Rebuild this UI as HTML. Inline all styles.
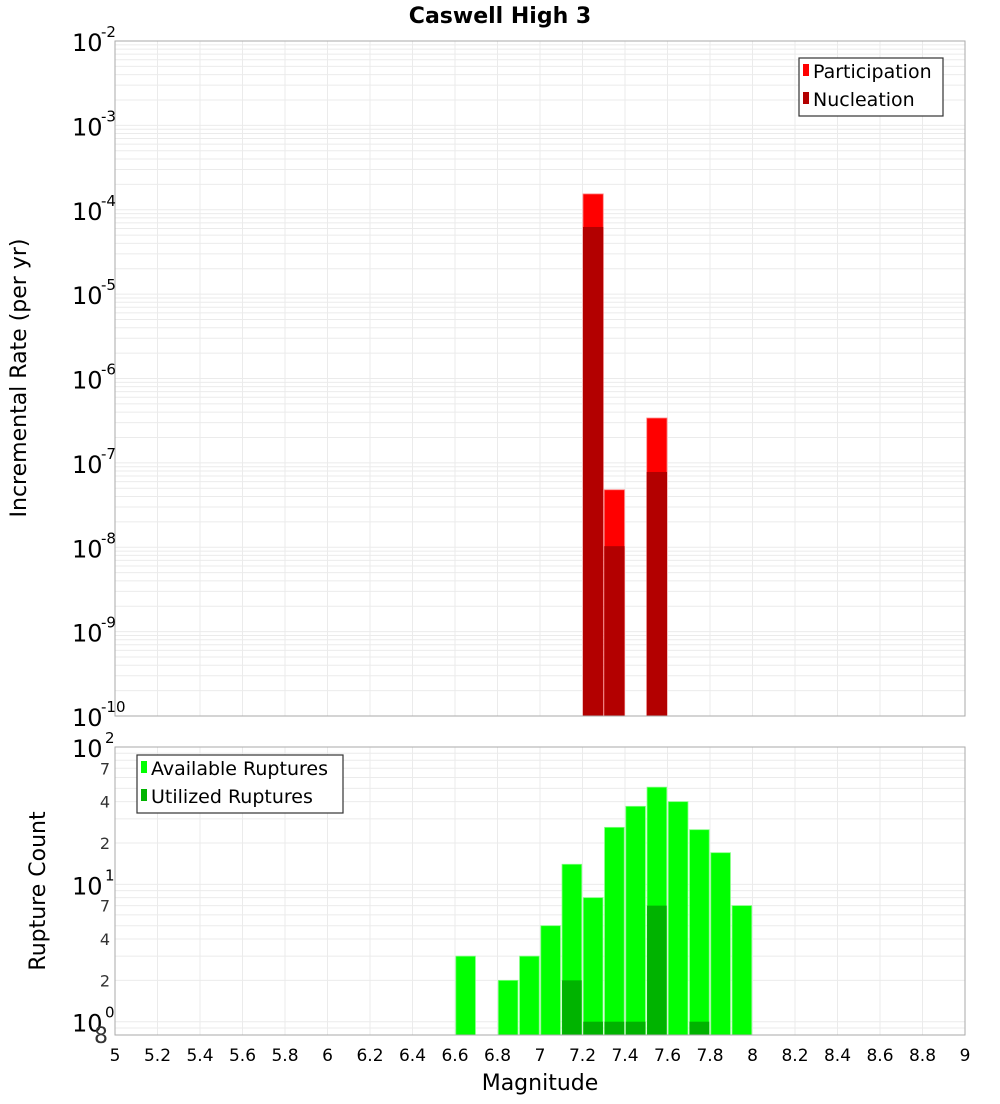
<!DOCTYPE html>
<html><head><meta charset="utf-8"><style>
body{margin:0;background:#fff;font-family:"DejaVu Sans","Liberation Sans",sans-serif;}
svg text{font-family:"DejaVu Sans","Liberation Sans",sans-serif;}
</style></head><body>
<svg id="c" width="1000" height="1100" xmlns="http://www.w3.org/2000/svg">
<text x="500" y="23" text-anchor="middle" font-size="22" font-weight="bold">Caswell High 3</text>
<g id="topPlot"></g>
<g id="botPlot"></g>
<text transform="translate(26,378) rotate(-90)" text-anchor="middle" font-size="22">Incremental Rate (per yr)</text>
<text transform="translate(45,891) rotate(-90)" text-anchor="middle" font-size="22">Rupture Count</text>
<text x="540" y="1090" text-anchor="middle" font-size="22">Magnitude</text>
</svg>
<script>
const rateMags=[7.25,7.35,7.55];
const participation=[1.54e-4,4.8e-8,3.4e-7];
const nucleation=[6.25e-5,1.03e-8,7.8e-8];
const countMags=[6.65,6.85,6.95,7.05,7.15,7.25,7.35,7.45,7.55,7.65,7.75,7.85,7.95];
const available=[3,2,3,5,14,8,26,37,51,40,25,17,7];
const utilMags=[7.15,7.25,7.35,7.45,7.55,7.75];
const utilized=[2,1,1,1,7,1];
const xTicks=[5,5.2,5.4,5.6,5.8,6,6.2,6.4,6.6,6.8,7,7.2,7.4,7.6,7.8,8,8.2,8.4,8.6,8.8,9];

const NS="http://www.w3.org/2000/svg";
const X0=115,X1=965;
const xs=m=>X0+(m-5)/4*(X1-X0);
const yT=v=>41+(-2-Math.log10(v))*(716-41)/8;
const bLo=Math.log10(0.8);
const yB=v=>747+(2-Math.log10(v))*(1035-747)/(2-bLo);
function mk(p,t,a){const e=document.createElementNS(NS,t);for(const k in a)e.setAttribute(k,a[k]);p.appendChild(e);return e;}
const topG=document.getElementById('topPlot'),botG=document.getElementById('botPlot');

for(let d=-10;d<-2;d++)for(let k=1;k<10;k++){const y=yT(k*Math.pow(10,d));const g=mk(topG,'line',{x1:X0,x2:X1,y1:y,y2:y,stroke:'#ebebeb','stroke-width':1});}
for(let i=0;i<=20;i++){const m=5+i*0.2;const g=mk(topG,'line',{x1:xs(m),x2:xs(m),y1:41,y2:716,stroke:'#ebebeb'});
 const h=mk(botG,'line',{x1:xs(m),x2:xs(m),y1:747,y2:1035,stroke:'#ebebeb'});}
for(let d=-1;d<2;d++)for(let k=1;k<10;k++){const v=k*Math.pow(10,d);if(v<0.8)continue;const y=yB(v);const g=mk(botG,'line',{x1:X0,x2:X1,y1:y,y2:y,stroke:'#ebebeb'});}

const bw=(X1-X0)/40;
rateMags.forEach((m,i)=>{
 const r=mk(topG,'rect',{x:xs(m)-bw/2+0.5,y:yT(participation[i]),width:bw-1,height:716-yT(participation[i]),fill:'#ff0000',stroke:'#ff8080','stroke-width':0.8});
 
 const n=mk(topG,'rect',{x:xs(m)-bw/2+0.5,y:yT(nucleation[i]),width:bw-1,height:716-yT(nucleation[i]),fill:'#b30000'});
 
});
countMags.forEach((m,i)=>{
 const r=mk(botG,'rect',{x:xs(m)-bw/2+0.8,y:yB(available[i]),width:bw-1.6,height:1035-yB(available[i]),fill:'#00ff00',stroke:'#80ff80','stroke-width':0.8});
 
});
utilMags.forEach((m,i)=>{
 const r=mk(botG,'rect',{x:xs(m)-bw/2+0.8,y:yB(utilized[i]),width:bw-1.6,height:1035-yB(utilized[i]),fill:'#00b300'});
 
});

let f=mk(topG,'rect',{x:X0,y:41,width:X1-X0,height:675,fill:'none',stroke:'#aaa'});
f=mk(botG,'rect',{x:X0,y:747,width:X1-X0,height:288,fill:'none',stroke:'#aaa'});

for(let d=-10;d<=-2;d++){const y=yT(Math.pow(10,d));
 const t=mk(topG,'text',{x:72,y:y+10,'font-size':24});t.textContent='10';
 const s=mk(topG,'text',{x:101,y:y-4,'font-size':15});s.textContent=String(d);}
[[100,'2'],[10,'1'],[1,'0']].forEach(([v,e])=>{const y=yB(v);
 const t=mk(botG,'text',{x:72,y:y+10,'font-size':24});t.textContent='10';
 const s=mk(botG,'text',{x:105,y:y-4,'font-size':15});s.textContent=e;});
[[70,'7'],[40,'4'],[20,'2'],[7,'7'],[4,'4'],[2,'2'],[0.8,'8']].forEach(([v,l])=>{const y=yB(v);
 const t=mk(botG,'text',{x:v<1?108:110,y:y+(v<1?8:6),'font-size':v<1?22:16,'text-anchor':'end',fill:'#333'});t.textContent=l;});
xTicks.forEach(m=>{const t=mk(botG,'text',{x:xs(m),y:1061,'font-size':17,'text-anchor':'middle'});t.textContent=String(m);});

function legend(p,x0,y0,w,items){const g=mk(p,'g',{});
 mk(g,'rect',{x:x0,y:y0,width:w,height:58,fill:'#fff',stroke:'#333','stroke-width':1.2});
 items.forEach(([c,l],i)=>{const r=mk(g,'rect',{x:x0+4,y:y0+13+i*28-7,width:6,height:12,fill:c});
  const t=mk(g,'text',{x:x0+14,y:y0+20+i*28,'font-size':19});t.textContent=l;});}
legend(topG,799,58,144,[['#ff0000','Participation'],['#b30000','Nucleation']]);
legend(botG,137,755,206,[['#00ff00','Available Ruptures'],['#00b300','Utilized Ruptures']]);
</script>
</body></html>
